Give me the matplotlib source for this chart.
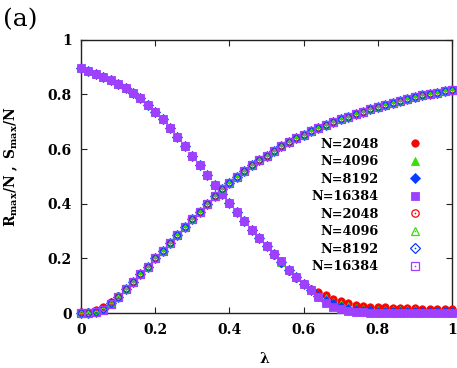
import matplotlib
matplotlib.use('Agg')
import matplotlib.pyplot as plt
from matplotlib.lines import Line2D

# ---------------- data ----------------
lam = [0.00, 0.02, 0.04, 0.06, 0.08, 0.10, 0.12, 0.14, 0.16, 0.18,
       0.20, 0.22, 0.24, 0.26, 0.28, 0.30, 0.32, 0.34, 0.36, 0.38,
       0.40, 0.42, 0.44, 0.46, 0.48, 0.50, 0.52, 0.54, 0.56, 0.58,
       0.60, 0.62, 0.64, 0.66, 0.68, 0.70, 0.72, 0.74, 0.76, 0.78,
       0.80, 0.82, 0.84, 0.86, 0.88, 0.90, 0.92, 0.94, 0.96, 0.98, 1.00]

sizes = ["N=2048", "N=4096", "N=8192", "N=16384"]

# common part of the increasing curve (lambda >= 0.12)
R_common = [0.087, 0.114, 0.142, 0.170, 0.200, 0.227, 0.255, 0.285,
            0.315, 0.343, 0.371, 0.399, 0.427, 0.453, 0.476, 0.499, 0.520,
            0.540, 0.559, 0.576, 0.594, 0.610, 0.625, 0.639, 0.653, 0.666,
            0.678, 0.689, 0.699, 0.709, 0.718, 0.727, 0.736, 0.745, 0.754,
            0.762, 0.770, 0.777, 0.784, 0.790, 0.796, 0.801, 0.806, 0.811,
            0.816]
R_2048 = [0.003, 0.006, 0.012, 0.022, 0.040, 0.063] + R_common
R_4096 = [0.002, 0.004, 0.009, 0.018, 0.038, 0.062] + R_common
R_8192 = [0.001, 0.002, 0.006, 0.015, 0.036, 0.061] + R_common
R_16384 = [0.000, 0.001, 0.004, 0.013, 0.034, 0.060] + R_common

# common part of the decreasing curve (lambda <= 0.50)
S_common = [0.895, 0.886, 0.876, 0.865, 0.852, 0.839, 0.823, 0.805, 0.785,
            0.762, 0.737, 0.709, 0.678, 0.645, 0.611, 0.576, 0.541, 0.505,
            0.470, 0.436, 0.402, 0.369, 0.336, 0.305, 0.276, 0.247]
S_2048 = S_common + [0.214, 0.184, 0.155, 0.130, 0.108, 0.090, 0.077, 0.066,
                     0.053, 0.043, 0.036, 0.030, 0.026, 0.024, 0.022, 0.021,
                     0.020, 0.019, 0.018, 0.018, 0.017, 0.017, 0.016, 0.016,
                     0.016]
S_4096 = S_common + [0.217, 0.187, 0.157, 0.132, 0.108, 0.087, 0.068, 0.054,
                     0.042, 0.032, 0.025, 0.019, 0.015, 0.013, 0.012, 0.011,
                     0.011, 0.010, 0.010, 0.010, 0.009, 0.009, 0.009, 0.009,
                     0.008]
S_8192 = S_common + [0.218, 0.188, 0.158, 0.133, 0.108, 0.085, 0.063, 0.046,
                     0.033, 0.022, 0.015, 0.010, 0.008, 0.007, 0.006, 0.006,
                     0.005, 0.005, 0.005, 0.005, 0.005, 0.004, 0.004, 0.004,
                     0.004]
S_16384 = S_common + [0.218, 0.189, 0.159, 0.133, 0.108, 0.084, 0.060, 0.039,
                      0.024, 0.014, 0.008, 0.005, 0.003, 0.002, 0.001, 0.001,
                      0.001, 0.001, 0.001, 0.001, 0.001, 0.001, 0.001, 0.001,
                      0.001]

R_series = [R_2048, R_4096, R_8192, R_16384]
S_series = [S_2048, S_4096, S_8192, S_16384]

xticks = [0, 0.2, 0.4, 0.6, 0.8, 1.0]
xticklabels = ["0", "0.2", "0.4", "0.6", "0.8", "1"]
yticks = [0, 0.2, 0.4, 0.6, 0.8, 1.0]
yticklabels = ["0", "0.2", "0.4", "0.6", "0.8", "1"]

# ---------------- style ----------------
colors = ["#ff0000", "#33e000", "#0a3cff", "#a040ff"]
markers = ["o", "^", "D", "s"]
msizes = [5.3, 5.8, 4.6, 5.5]
open_sizes = [3.6, 3.8, 4.2, 5.5]

plt.rcParams['mathtext.fontset'] = 'dejavuserif'
plt.rcParams['font.family'] = ['DejaVu Serif']

fig = plt.figure(figsize=(4.57, 3.68), dpi=100)
ax = fig.add_axes([81/457, (368-313.2)/368, 371/457, 273.6/368])

# filled markers: both curves
for R, S, c, m, ms in zip(R_series, S_series, colors, markers, msizes):
    ax.plot(lam, R, ls='none', marker=m, color=c, ms=ms, mew=0.6, clip_on=False, zorder=3)
    ax.plot(lam, S, ls='none', marker=m, color=c, ms=ms, mew=0.6, clip_on=False, zorder=3)

# open markers: increasing curve
for i, (R, c, m, ms) in enumerate(zip(R_series, colors, markers, open_sizes)):
    ax.plot(lam, R, ls='none', marker=m, mfc='white' if i == 0 else 'none', mec=c,
            ms=ms, mew=0.9, clip_on=False, zorder=4)
for R, c in zip([R_2048, R_16384, R_8192, R_4096],
                [colors[0], colors[3], colors[2], colors[1]]):
    ax.plot(lam, R, ls='none', marker='o', color=c, ms=1.2, mew=0,
            clip_on=False, zorder=5)

ax.set_xlim(0, 1)
ax.set_ylim(0, 1)
ax.set_xticks(xticks)
ax.set_xticklabels(xticklabels)
ax.set_yticks(yticks)
ax.set_yticklabels(yticklabels)
ax.tick_params(direction='in', top=True, right=True, length=4, width=0.8,
               color='#222222', labelsize=10)
ax.tick_params(axis='x', pad=7)
ax.tick_params(axis='y', pad=6.5)
for lab in ax.get_xticklabels() + ax.get_yticklabels():
    lab.set_fontweight('bold')
for sp in ax.spines.values():
    sp.set_linewidth(1.0)
    sp.set_color('#222222')

ax.set_ylabel(r"$\mathbf{R_{max}/N\ ,\ S_{max}/N}$", fontsize=10)
ax.yaxis.set_label_coords(-0.165, 0.534)
ax.set_xlabel("λ", fontsize=10, fontweight='bold')
ax.xaxis.set_label_coords(0.493, -0.14)

fig.text(3/457, 1 - 20/368, "(a)", fontsize=18, ha='left', va='center')

# legend
handles = []
for c, m, ms in zip(colors, markers, msizes):
    handles.append(Line2D([], [], ls='none', marker=m, color=c, ms=ms, mew=0.6))
for c, m, ms in zip(colors, markers, msizes):
    handles.append((Line2D([], [], ls='none', marker=m, mfc='none', mec=c, ms=ms, mew=0.9),
                    Line2D([], [], ls='none', marker='o', color=c, ms=1.2, mew=0)))
labels = sizes + sizes
ax.legend(handles, labels, loc='upper right', bbox_to_anchor=(0.9175, 0.642),
          markerfirst=False, frameon=False, handlelength=1.0, handletextpad=2.3,
          labelspacing=0.35, borderpad=0, borderaxespad=0, numpoints=1,
          prop={'family': 'DejaVu Serif', 'weight': 'bold', 'size': 9.3})

fig.savefig("out.png", dpi=100)
